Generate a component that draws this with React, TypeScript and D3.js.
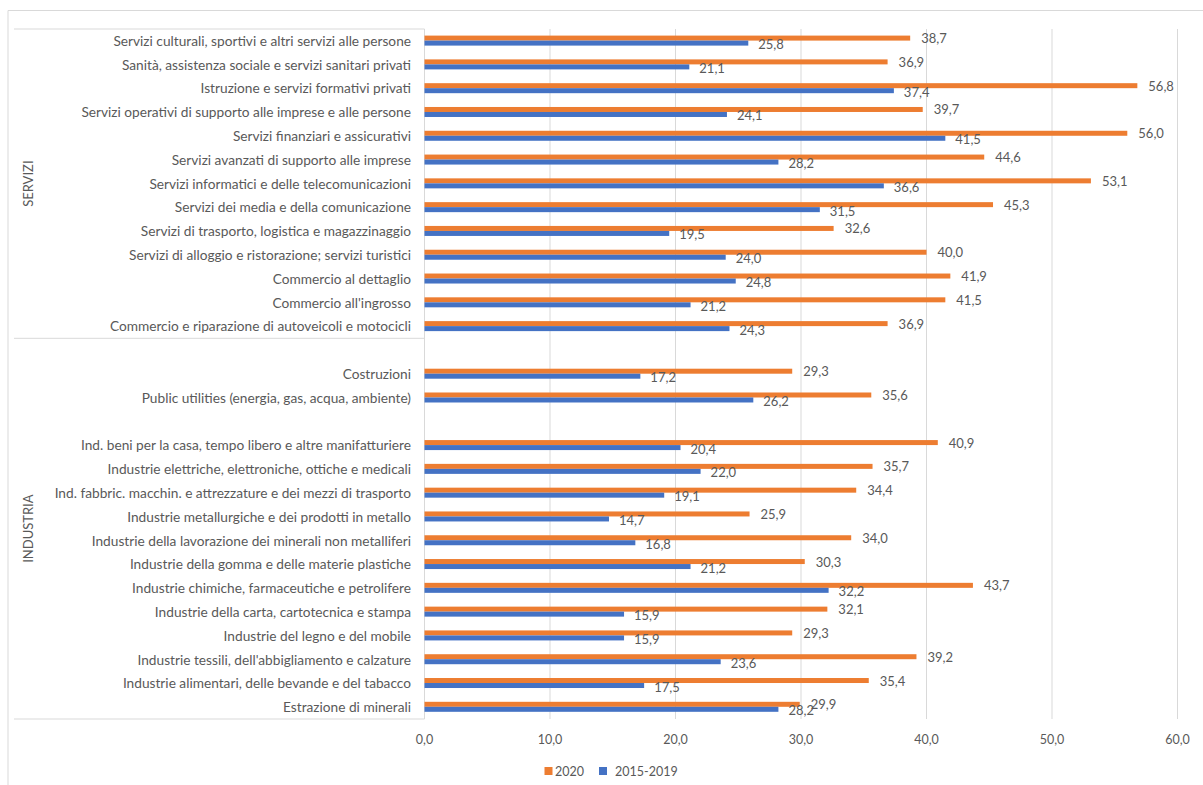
import * as d3 from "d3";

// Rows top to bottom; "" marks an empty spacer row
const categories = [
  "Servizi culturali, sportivi e altri servizi alle persone",
  "Sanità, assistenza sociale e servizi sanitari privati",
  "Istruzione e servizi formativi privati",
  "Servizi operativi di supporto alle imprese e alle persone",
  "Servizi finanziari e assicurativi",
  "Servizi avanzati di supporto alle imprese",
  "Servizi informatici e delle telecomunicazioni",
  "Servizi dei media e della comunicazione",
  "Servizi di trasporto, logistica e magazzinaggio",
  "Servizi di alloggio e ristorazione; servizi turistici",
  "Commercio al dettaglio",
  "Commercio all'ingrosso",
  "Commercio e riparazione di autoveicoli e motocicli",
  "",
  "Costruzioni",
  "Public utilities (energia, gas, acqua, ambiente)",
  "",
  "Ind. beni per la casa, tempo libero e altre manifatturiere",
  "Industrie elettriche, elettroniche, ottiche e medicali",
  "Ind. fabbric. macchin. e attrezzature e dei mezzi di trasporto",
  "Industrie metallurgiche e dei prodotti in metallo",
  "Industrie della lavorazione dei minerali non metalliferi",
  "Industrie della gomma e delle materie plastiche",
  "Industrie chimiche, farmaceutiche e petrolifere",
  "Industrie della carta, cartotecnica e stampa",
  "Industrie del legno e del mobile",
  "Industrie tessili, dell'abbigliamento e calzature",
  "Industrie alimentari, delle bevande e del tabacco",
  "Estrazione di minerali",
];

const values2020: (number | null)[] = [
  38.7, 36.9, 56.8, 39.7, 56.0, 44.6, 53.1, 45.3, 32.6, 40.0, 41.9, 41.5, 36.9,
  null, 29.3, 35.6, null,
  40.9, 35.7, 34.4, 25.9, 34.0, 30.3, 43.7, 32.1, 29.3, 39.2, 35.4, 29.9,
];

const values2015_2019: (number | null)[] = [
  25.8, 21.1, 37.4, 24.1, 41.5, 28.2, 36.6, 31.5, 19.5, 24.0, 24.8, 21.2, 24.3,
  null, 17.2, 26.2, null,
  20.4, 22.0, 19.1, 14.7, 16.8, 21.2, 32.2, 15.9, 15.9, 23.6, 17.5, 28.2,
];

// Group name and number of rows it spans
const groups = ["SERVIZI", "INDUSTRIA"];
const groupSizes = [13, 16];

const xTicks = [0, 10, 20, 30, 40, 50, 60];

const ORANGE = "#ED7D31";
const BLUE = "#4472C4";
const TEXT = "#595959";
const GRID = "#d9d9d9";
const FONT = "Lato, 'Open Sans', sans-serif";

const fmt = (v: number) => d3.format(".1f")(v).replace(".", ",");

export default function App() {
  const width = 1203;
  const height = 785;
  const plot = { left: 424.5, right: 1177.5, top: 29, bottom: 719 };

  const x = d3.scaleLinear().domain([0, 60]).range([plot.left, plot.right]);
  const y = d3
    .scaleBand<number>()
    .domain(d3.range(categories.length))
    .range([plot.top, plot.bottom])
    .padding(0);
  const bw = y.bandwidth();
  const barH = 5;

  // group boundaries
  const bounds: number[] = [plot.top];
  let acc = 0;
  groupSizes.forEach((n) => {
    acc += n;
    bounds.push(plot.top + acc * bw);
  });

  return (
    <svg
      width={width}
      height={height}
      style={{ position: "absolute", left: 0, top: 0, background: "#fff" }}
      fontFamily={FONT}
    >
      {/* chart frame */}
      <line x1={8} x2={width} y1={10.5} y2={10.5} stroke={GRID} />
      <line x1={8} x2={8} y1={10.5} y2={height} stroke={GRID} />

      {/* gridlines */}
      {xTicks.slice(1).map((t) => (
        <line
          key={t}
          x1={x(t)}
          x2={x(t)}
          y1={plot.top}
          y2={plot.bottom}
          stroke={GRID}
          strokeWidth={1}
        />
      ))}

      {/* category axis lines */}
      <line x1={plot.left} x2={plot.left} y1={plot.top} y2={plot.bottom} stroke={GRID} />
      {bounds.map((b, i) => (
        <line key={i} x1={14} x2={plot.left} y1={b} y2={b} stroke={GRID} />
      ))}

      {/* group labels */}
      {groups.map((g, i) => {
        const cy = (bounds[i] + bounds[i + 1]) / 2;
        return (
          <text
            key={g}
            transform={`translate(28,${cy}) rotate(-90)`}
            textAnchor="middle"
            dominantBaseline="central"
            fontSize={13}
            fill={TEXT}
          >
            {g}
          </text>
        );
      })}

      {/* category labels */}
      {categories.map((c, i) =>
        c ? (
          <text
            key={i}
            x={411}
            y={(y(i) ?? 0) + bw / 2 - 0.5}
            textAnchor="end"
            dominantBaseline="central"
            fontSize={13.7}
            fill={TEXT}
          >
            {c}
          </text>
        ) : null
      )}

      {/* bars */}
      {categories.map((c, i) => {
        const v1 = values2020[i];
        const v2 = values2015_2019[i];
        if (v1 == null || v2 == null) return null;
        const cy = (y(i) ?? 0) + bw / 2;
        const oy = cy - 5.3;
        const by = cy - 0.3;
        return (
          <g key={i}>
            <rect x={x(0)} y={oy} width={x(v1) - x(0)} height={barH} fill={ORANGE} />
            <rect x={x(0)} y={by} width={x(v2) - x(0)} height={barH} fill={BLUE} />
            <text
              x={x(v1) + 11}
              y={oy + barH / 2}
              dominantBaseline="central"
              fontSize={13}
              fill={TEXT}
            >
              {fmt(v1)}
            </text>
            <text
              x={x(v2) + 10}
              y={by + barH / 2 + 1}
              dominantBaseline="central"
              fontSize={13}
              fill={TEXT}
            >
              {fmt(v2)}
            </text>
          </g>
        );
      })}

      {/* x axis tick labels */}
      {xTicks.map((t) => (
        <text
          key={t}
          x={x(t)}
          y={739}
          textAnchor="middle"
          dominantBaseline="central"
          fontSize={12.5}
          fill={TEXT}
        >
          {fmt(t)}
        </text>
      ))}

      {/* legend */}
      <rect x={544.5} y={767} width={8} height={8} fill={ORANGE} />
      <text x={555} y={771} dominantBaseline="central" fontSize={12.5} fill={TEXT}>
        2020
      </text>
      <rect x={599} y={767} width={8} height={8} fill={BLUE} />
      <text x={615} y={771} dominantBaseline="central" fontSize={12.5} fill={TEXT}>
        2015-2019
      </text>
    </svg>
  );
}
